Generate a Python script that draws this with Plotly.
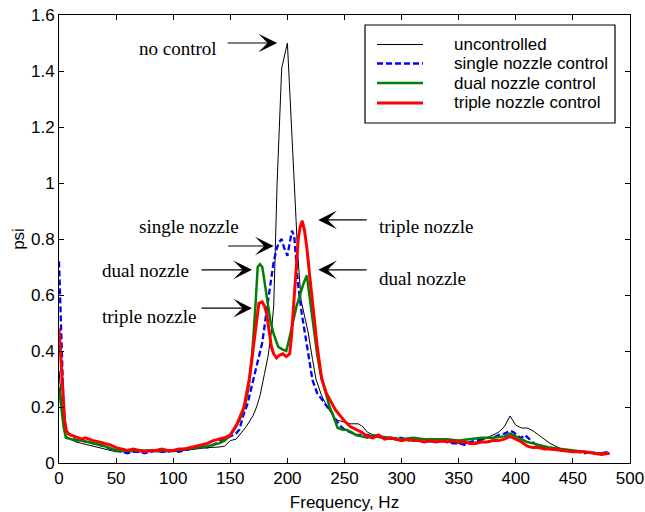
import plotly.graph_objects as go

# ---------------- data ----------------
f_unc = [0, 2, 4, 6, 8, 10, 15, 20, 25, 30, 35, 40, 45, 50, 55, 60, 65, 70, 75, 80, 90, 100, 110,
         120, 130, 140, 145, 150, 155, 160, 164, 167, 170, 173, 176, 180, 183, 186, 188, 191, 195,
         200, 203, 206, 209, 212, 215, 218, 222, 225, 230, 235, 242, 250, 255, 262, 266, 270, 275,
         280, 290, 300, 310, 320, 330, 340, 350, 360, 370, 375, 380, 385, 390, 395, 400, 405, 410,
         415, 420, 425, 430, 435, 440, 450, 460, 470, 482]
p_unc = [0.33, 0.22, 0.13, 0.10, 0.09, 0.085, 0.075, 0.07, 0.065, 0.06, 0.055, 0.05, 0.045, 0.04,
         0.04, 0.04, 0.038, 0.038, 0.04, 0.04, 0.04, 0.04, 0.045, 0.05, 0.055, 0.057, 0.06, 0.08,
         0.085, 0.11, 0.13, 0.15, 0.17, 0.2, 0.24, 0.32, 0.38, 0.47, 0.56, 1.0, 1.41,
         1.5, 1.25, 1.0, 0.75, 0.58, 0.52, 0.47, 0.37, 0.30, 0.24, 0.20, 0.155, 0.145, 0.14, 0.14,
         0.13, 0.11, 0.10, 0.09, 0.085, 0.08, 0.08, 0.075, 0.075, 0.075, 0.07, 0.07, 0.08, 0.09,
         0.10, 0.11, 0.13, 0.168, 0.135, 0.125, 0.125, 0.115, 0.10, 0.085, 0.07, 0.06, 0.05,
         0.045, 0.04, 0.035, 0.03]

f_single = [0, 1, 2, 3, 4, 5, 7, 10, 12, 15, 18, 20, 25, 30, 35, 40, 45, 50, 55, 60, 65, 70, 75,
            80, 85, 90, 95, 100, 105, 110, 115, 120, 125, 130, 135, 140, 145, 150, 155, 158, 161,
            165, 168, 172, 175, 178, 181, 185, 188, 191, 193, 195, 197, 200, 202, 204, 206, 209,
            212.5, 217, 222, 226, 231, 235, 239, 243, 247, 250, 255, 260, 265, 270, 275, 280, 285,
            290, 295, 300, 305, 310, 315, 320, 325, 330, 335, 340, 345, 350, 355, 360, 365, 370,
            375, 380, 385, 390, 395, 398, 402, 405, 408, 412, 416, 420, 425, 430, 435, 440, 445,
            450, 455, 460, 465, 470, 475, 482]
p_single = [0.72, 0.60, 0.45, 0.30, 0.20, 0.15, 0.11, 0.10, 0.09, 0.08, 0.085, 0.08, 0.075, 0.07,
            0.065, 0.06, 0.05, 0.045, 0.04, 0.035, 0.04, 0.04, 0.035, 0.04, 0.045, 0.04, 0.04,
            0.045, 0.04, 0.045, 0.05, 0.055, 0.06, 0.055, 0.065, 0.075, 0.085, 0.095, 0.105, 0.12,
            0.165, 0.21, 0.26, 0.32, 0.37, 0.43, 0.52, 0.64, 0.72, 0.77, 0.79, 0.80, 0.77, 0.74,
            0.78, 0.83, 0.81, 0.65, 0.535, 0.415, 0.296, 0.25, 0.22, 0.20, 0.18, 0.15, 0.13, 0.12,
            0.11, 0.10, 0.10, 0.10, 0.095, 0.10, 0.09, 0.085, 0.09, 0.09, 0.08, 0.085, 0.08, 0.08,
            0.085, 0.075, 0.08, 0.075, 0.07, 0.07, 0.065, 0.075, 0.08, 0.085, 0.09, 0.09, 0.10,
            0.105, 0.115, 0.11, 0.095, 0.09, 0.10, 0.085, 0.07, 0.06, 0.055, 0.05, 0.05, 0.045,
            0.045, 0.04, 0.04, 0.035, 0.04, 0.035, 0.035, 0.04]

f_dual = [0, 2, 4, 6, 10, 15, 20, 25, 30, 40, 50, 60, 70, 80, 90, 100, 110, 120, 130, 140, 145,
          150, 155, 160, 163, 166, 169, 172, 174, 176, 178, 181, 183, 185, 188, 192, 196, 199, 202,
          205, 208, 211, 214, 217, 220, 223, 226, 229, 231, 234, 237, 240, 244, 248, 252, 256, 260,
          265, 270, 275, 280, 290, 300, 310, 320, 330, 340, 350, 360, 370, 380, 390, 395, 400, 405,
          410, 415, 420, 430, 440, 450, 460, 470, 482]
p_dual = [0.27, 0.20, 0.13, 0.09, 0.085, 0.08, 0.08, 0.075, 0.07, 0.06, 0.045, 0.045, 0.045,
          0.045, 0.045, 0.045, 0.05, 0.055, 0.06, 0.07, 0.08, 0.10, 0.13, 0.17, 0.21, 0.27, 0.38,
          0.56, 0.70, 0.71, 0.70, 0.62, 0.56, 0.51, 0.46, 0.415, 0.405, 0.40, 0.45, 0.51, 0.56,
          0.60, 0.64, 0.67, 0.58, 0.48, 0.39, 0.32, 0.29, 0.24, 0.20, 0.17, 0.125, 0.12, 0.118,
          0.11, 0.10, 0.095, 0.09, 0.10, 0.095, 0.09, 0.085, 0.09, 0.085, 0.085, 0.085, 0.08,
          0.085, 0.09, 0.09, 0.095, 0.105, 0.095, 0.085, 0.075, 0.07, 0.065, 0.055, 0.05, 0.045,
          0.04, 0.035, 0.035]

f_triple = [0, 1, 2, 3, 4, 5, 6, 8, 10, 13, 16, 20, 23, 26, 30, 35, 40, 45, 50, 55, 60, 65, 70,
            75, 80, 85, 90, 95, 100, 105, 110, 115, 120, 125, 130, 135, 140, 145, 150, 153, 156,
            159, 162, 166.7, 170, 173, 175, 178, 180, 182, 184, 186, 188, 190.5, 193, 196, 199,
            202, 203.5, 205, 207, 209.5, 211, 213, 215, 217, 220, 222.7, 226, 230, 234, 238, 242,
            246, 250, 255, 260, 265, 270, 275, 280, 285, 290, 295, 300, 305, 310, 315, 320, 325,
            330, 335, 340, 345, 350, 355, 360, 365, 370, 375, 380, 385, 390, 395, 400, 405, 410,
            415, 420, 425, 430, 440, 450, 460, 470, 475, 482]
p_triple = [0.48, 0.42, 0.35, 0.27, 0.20, 0.15, 0.12, 0.105, 0.10, 0.095, 0.09, 0.085, 0.09,
            0.085, 0.08, 0.075, 0.07, 0.065, 0.055, 0.05, 0.045, 0.05, 0.045, 0.04, 0.045, 0.045,
            0.05, 0.045, 0.045, 0.05, 0.05, 0.055, 0.06, 0.065, 0.07, 0.08, 0.085, 0.09, 0.10,
            0.12, 0.14, 0.17, 0.20, 0.30, 0.40, 0.50, 0.57, 0.575, 0.56, 0.53, 0.47, 0.415, 0.39,
            0.375, 0.385, 0.39, 0.38, 0.39, 0.45, 0.53, 0.65, 0.80, 0.84, 0.865, 0.83, 0.77, 0.65,
            0.535, 0.42, 0.30, 0.25, 0.22, 0.19, 0.17, 0.15, 0.13, 0.12, 0.11, 0.095, 0.09, 0.10,
            0.085, 0.09, 0.085, 0.08, 0.085, 0.08, 0.08, 0.075, 0.08, 0.075, 0.08, 0.075, 0.08,
            0.075, 0.075, 0.07, 0.07, 0.075, 0.075, 0.08, 0.08, 0.085, 0.095, 0.085, 0.075, 0.06,
            0.055, 0.055, 0.05, 0.05, 0.045, 0.04, 0.04, 0.035, 0.03, 0.035]

series_names = ["uncontrolled", "single nozzle control", "dual nozzle control",
                "triple nozzle control"]
x_tickvals = [0, 50, 100, 150, 200, 250, 300, 350, 400, 450, 500]
y_tickvals = [0, 0.2, 0.4, 0.6, 0.8, 1.0, 1.2, 1.4, 1.6]
y_ticktext = ["0", "0.2", "0.4", "0.6", "0.8", "1", "1.2", "1.4", "1.6"]

# ---------------- styles ----------------
SANS = "Liberation Sans, Arial, Helvetica, sans-serif"
SERIF = "Liberation Serif, Times New Roman, serif"
styles = [
    dict(color="black", width=1, dash="solid"),
    dict(color="#0000ff", width=2.3, dash="6px,3px"),
    dict(color="#008000", width=2.5, dash="solid"),
    dict(color="#ff0000", width=3, dash="solid"),
]

fig = go.Figure()
for f, p, name, st in zip([f_unc, f_single, f_dual, f_triple],
                          [p_unc, p_single, p_dual, p_triple], series_names, styles):
    fig.add_trace(go.Scatter(x=f, y=p, mode="lines", name=name, line=st,
                             showlegend=False))


def peak(f, p, lo, hi):
    best = None
    for fi, pi in zip(f, p):
        if lo <= fi <= hi and (best is None or pi > best[1]):
            best = (fi, pi)
    return best


arrow_kw = dict(showarrow=True, arrowhead=3, arrowsize=2.6, arrowwidth=1.2,
                arrowcolor="black", text="", axref="pixel", ayref="pixel", ay=0)

pu = peak(f_unc, p_unc, 0, 500)
ps = peak(f_single, p_single, 190, 198)
pdl = peak(f_dual, p_dual, 150, 195)
pdr = peak(f_dual, p_dual, 195, 260)
ptl = peak(f_triple, p_triple, 150, 195)
ptr = peak(f_triple, p_triple, 195, 260)

arrows = [
    (pu[0] - 9, pu[1], -51),
    (ps[0] - 7, ps[1] - 0.025, -47),
    (pdl[0] - 7, pdl[1] - 0.02, -52),
    (ptl[0] - 9, ptl[1] - 0.022, -52),
    (ptr[0] + 14, ptr[1] + 0.003, 50),
    (pdr[0] + 10, pdr[1] + 0.02, 50),
]
for x, y, ax in arrows:
    fig.add_annotation(x=x, y=y, ax=ax, **arrow_kw)

labels = [
    ("no control", 68, 1.482),
    ("single nozzle", 68, 0.843),
    ("dual nozzle", 35.5, 0.689),
    ("triple nozzle", 35.5, 0.525),
    ("triple nozzle", 278.5, 0.843),
    ("dual nozzle", 278.5, 0.66),
]
for t, x, y in labels:
    fig.add_annotation(x=x, y=y, text=t, showarrow=False, xanchor="left", yanchor="middle",
                       font=dict(family=SERIF, size=19, color="black"))

# ---------------- manual legend (box, samples, labels) ----------------
L, R, T, B = 59, 630, 15, 463


def px(xp):
    return (xp - L) / (R - L)


def py(yp):
    return (B - yp) / (B - T)


fig.add_shape(type="rect", xref="paper", yref="paper", x0=px(365), x1=px(615), y0=py(123),
              y1=py(25), line=dict(color="black", width=1.2), fillcolor="white", layer="above")
rows = [44.5, 63.5, 83, 103]
for name, st, ry in zip(series_names, styles, rows):
    fig.add_shape(type="line", xref="paper", yref="paper", x0=px(377), x1=px(423), y0=py(ry),
                  y1=py(ry), line=st, layer="above")
    fig.add_annotation(xref="paper", yref="paper", x=px(452), y=py(ry), text=name,
                       showarrow=False, xanchor="left", yanchor="middle",
                       font=dict(family=SANS, size=17, color="black"))

axis_common = dict(showline=True, linecolor="black", linewidth=1, mirror="ticks",
                   ticks="inside", ticklen=5, tickcolor="black", showgrid=False,
                   zeroline=False, automargin=False,
                   tickfont=dict(family=SANS, size=17, color="black"))

fig.update_layout(
    width=645, height=512,
    margin=dict(l=L, r=645 - R, t=T, b=512 - B, autoexpand=False),
    paper_bgcolor="white", plot_bgcolor="white",
    xaxis=dict(range=[0, 500], tickvals=x_tickvals, **axis_common,
               title=dict(text="Frequency, Hz", font=dict(family=SANS, size=17, color="black"),
                          standoff=12)),
    yaxis=dict(range=[0, 1.6], tickvals=y_tickvals, ticktext=y_ticktext, **axis_common,
               title=dict(text="psi", font=dict(family=SANS, size=17, color="black"),
                          standoff=2)),
    showlegend=False,
)

fig.write_html("out.html")
